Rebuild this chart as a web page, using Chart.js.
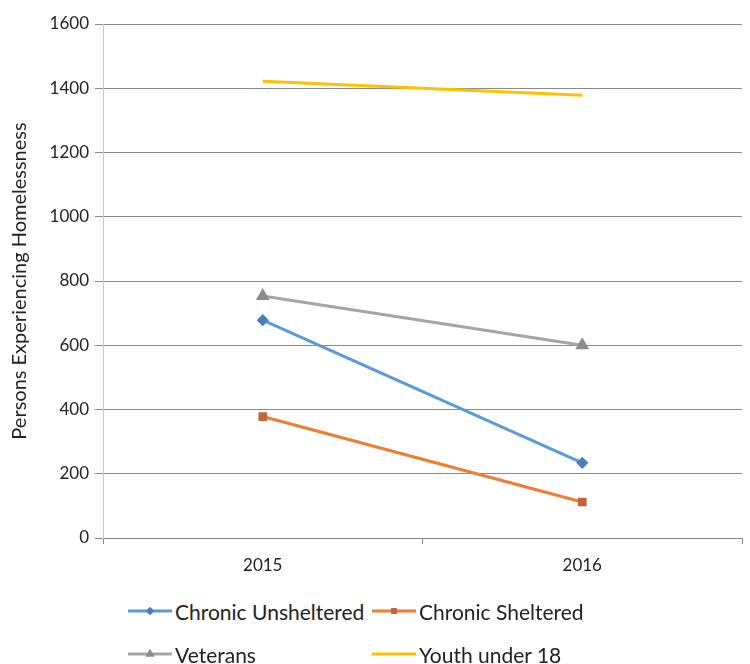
<!DOCTYPE html>
<html>
<head>
<meta charset="utf-8">
<script src="https://cdn.jsdelivr.net/npm/chart.js@4"></script>
<style>
  html, body { margin: 0; padding: 0; background: #fff; }
  #wrap { position: relative; width: 750px; height: 664px; }
  #grafico { position: absolute; left: 0; top: 0; }
  #leyenda {
    position: absolute; left: 128px; top: 596px;
    display: grid; grid-template-columns: 244px 200px; row-gap: 13px;
    font-family: Lato, "Liberation Sans", sans-serif; font-size: 21px; color: #222;
  }
  .item { display: flex; align-items: center; height: 30px; white-space: nowrap; }
  .item canvas { margin-right: 3px; }
</style>
</head>
<body>
<div id="wrap">
  <canvas id="grafico" width="750" height="590"></canvas>
  <div id="leyenda"></div>
</div>
<script>
// Años y series
const anios = ['2015', '2016'];
const cronicoSinRefugio = [678, 234];
const cronicoRefugio = [378, 112];
const veteranos = [753, 600];
const jovenes = [1422, 1378];
const etiquetasY = [0, 200, 400, 600, 800, 1000, 1200, 1400, 1600];

const fuente = 'Lato, "Liberation Sans", sans-serif';

const series = [
  { label: 'Chronic Unsheltered', data: cronicoSinRefugio, color: '#5B9BD5', punto: '#4A7EBB', estilo: 'rectRot', radio: 4 },
  { label: 'Chronic Sheltered', data: cronicoRefugio, color: '#ED7D31', punto: '#C0663A', estilo: 'rect', radio: 4 },
  { label: 'Veterans', data: veteranos, color: '#A5A5A5', punto: '#8C8C8C', estilo: 'triangle', radio: 5 },
  { label: 'Youth under 18', data: jovenes, color: '#FFC000', punto: '#FFC000', estilo: 'circle', radio: 0 }
];

const ctx = document.getElementById('grafico').getContext('2d');

new Chart(ctx, {
  type: 'line',
  data: {
    labels: anios,
    datasets: series.map(s => ({
      label: s.label,
      data: s.data,
      borderColor: s.color,
      backgroundColor: s.punto,
      pointBackgroundColor: s.punto,
      pointBorderColor: s.punto,
      pointStyle: s.estilo,
      pointRadius: s.radio,
      borderWidth: 3,
      tension: 0
    }))
  },
  options: {
    responsive: false,
    animation: false,
    layout: { padding: { top: 24, right: 5, left: 8, bottom: 0 } },
    plugins: {
      legend: { display: false },
      tooltip: { enabled: false }
    },
    scales: {
      x: {
        offset: true,
        grid: { offset: true, drawOnChartArea: false, drawTicks: true, tickLength: 6, color: '#888' },
        border: { color: '#888' },
        ticks: { color: '#222', font: { family: fuente, size: 17 }, padding: 11 },
        afterFit: escala => { escala.height = 52; }
      },
      y: {
        min: 0,
        max: 1600,
        afterBuildTicks: escala => { escala.ticks = etiquetasY.map(v => ({ value: v })); },
        grid: { color: '#8a8a8a', tickLength: 8 },
        border: { color: '#c8c8c8' },
        ticks: {
          color: '#222',
          font: { family: fuente, size: 17 },
          padding: 6,
          callback: v => String(v)
        },
        title: {
          display: true,
          text: 'Persons Experiencing Homelessness',
          color: '#222',
          font: { family: fuente, size: 20 },
          padding: { top: 0, bottom: 3 }
        },
        afterFit: escala => { escala.width = 95; }
      }
    }
  }
});

// Leyenda en dos columnas, con la muestra de línea y marcador
const leyenda = document.getElementById('leyenda');
series.forEach(s => {
  const item = document.createElement('div');
  item.className = 'item';
  const muestra = document.createElement('canvas');
  muestra.width = 44; muestra.height = 14;
  const c = muestra.getContext('2d');
  c.strokeStyle = s.color; c.lineWidth = 3;
  c.beginPath(); c.moveTo(0, 7); c.lineTo(44, 7); c.stroke();
  if (s.radio > 0) {
    c.fillStyle = s.punto;
    Chart.helpers.drawPoint(c, { pointStyle: s.estilo, radius: s.radio, rotation: 0, borderWidth: 0 }, 22, 7);
    c.fill();
  }
  const texto = document.createElement('span');
  texto.textContent = s.label;
  item.appendChild(muestra);
  item.appendChild(texto);
  leyenda.appendChild(item);
});
</script>
</body>
</html>
